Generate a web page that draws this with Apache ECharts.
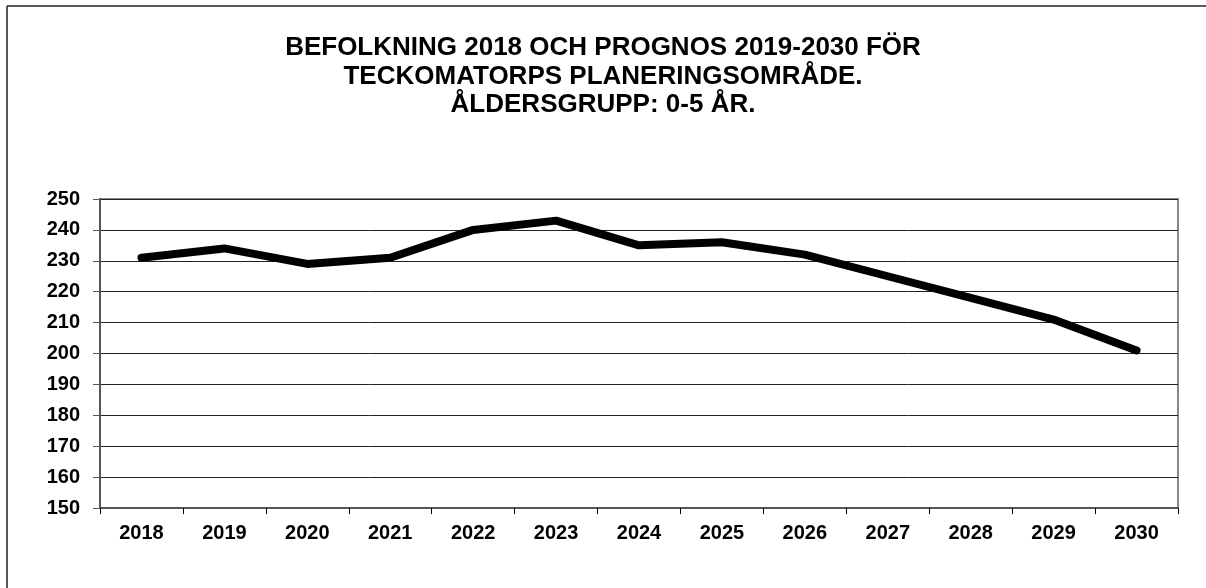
<!DOCTYPE html>
<html>
<head>
<meta charset="utf-8">
<script src="https://cdn.jsdelivr.net/npm/echarts@6/dist/echarts.min.js"></script>
<style>
  html, body { margin: 0; padding: 0; background: #fff; }
  #chart { width: 1206px; height: 588px; }
</style>
</head>
<body>
<div id="chart"></div>
<script>
// population 0-5 years, Teckomatorp
var years = ['2018', '2019', '2020', '2021', '2022', '2023', '2024',
             '2025', '2026', '2027', '2028', '2029', '2030'];
var population = [231, 234, 229, 231, 240, 243, 235, 236, 232, 225, 218, 211, 201];
var titleLines = [
  'BEFOLKNING 2018 OCH PROGNOS 2019-2030 FÖR',
  'TECKOMATORPS PLANERINGSOMRÅDE.',
  'ÅLDERSGRUPP: 0-5 ÅR.'
];

var chartDom = document.getElementById('chart');
var myChart = echarts.init(chartDom);
var font = '"Liberation Sans", Arial, sans-serif';

var option = {
  backgroundColor: '#fff',
  animation: false,
  title: {
    text: titleLines.join('\n'),
    left: 'center',
    top: 29,
    textStyle: {
      fontFamily: font,
      fontWeight: 'bold',
      fontSize: 26,
      lineHeight: 28.5,
      color: '#000'
    }
  },
  graphic: [
    // chart frame (only top and left edges are visible)
    { type: 'line', shape: { x1: 7, y1: 6, x2: 1206, y2: 6 },
      style: { stroke: '#222', lineWidth: 1.5 } },
    { type: 'line', shape: { x1: 7, y1: 6, x2: 7, y2: 588 },
      style: { stroke: '#222', lineWidth: 1.5 } }
  ],
  grid: {
    left: 100,
    right: 28,
    top: 199,
    bottom: 80,
    show: true,
    borderColor: '#888',
    borderWidth: 2
  },
  xAxis: {
    type: 'category',
    data: years,
    boundaryGap: true,
    axisLine: { lineStyle: { color: '#555', width: 2 } },
    axisTick: { show: true, length: 6, lineStyle: { color: '#000', width: 1 } },
    axisLabel: {
      margin: 15,
      color: '#000',
      fontFamily: font,
      fontWeight: 'bold',
      fontSize: 20
    },
    splitLine: { show: false }
  },
  yAxis: {
    type: 'value',
    min: 150,
    max: 250,
    interval: 10,
    axisLine: { show: true, lineStyle: { color: '#555', width: 2 } },
    axisTick: { show: true, length: 7, lineStyle: { color: '#555', width: 1 } },
    axisLabel: {
      margin: 20,
      color: '#000',
      fontFamily: font,
      fontWeight: 'bold',
      fontSize: 20
    },
    splitLine: { show: true, lineStyle: { color: '#222', width: 1 } }
  },
  series: [
    {
      type: 'line',
      data: population,
      symbol: 'none',
      lineStyle: { color: '#000', width: 8, cap: 'round', join: 'round' },
      z: 10
    }
  ]
};
option && myChart.setOption(option);
</script>
</body>
</html>
